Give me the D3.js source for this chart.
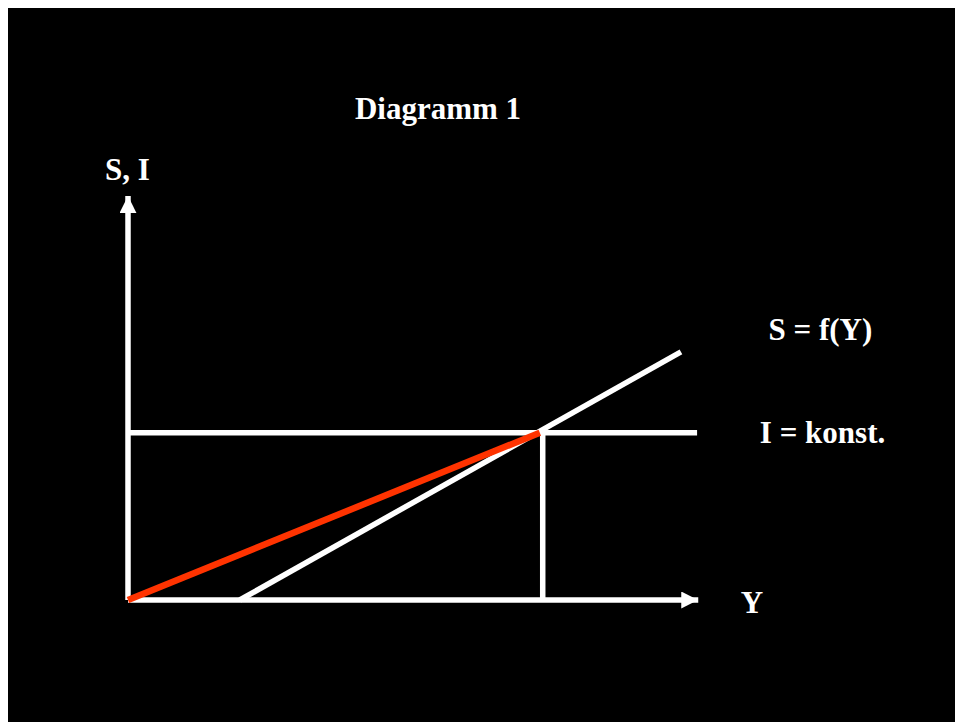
<!DOCTYPE html>
<html>
<head>
<meta charset="utf-8">
<script src="https://cdn.jsdelivr.net/npm/d3@7"></script>
<style>
  body { margin: 0; background: #fff; }
  svg { display: block; }
  text { font-family: "Liberation Serif", "Times New Roman", serif; font-weight: bold; fill: #fff; }
</style>
</head>
<body>
<svg id="chart"></svg>
<script>
const width = 955;
const height = 722;

// data (abstract units: Y from 0..100, S/I from 0..100)
const axisMax = [100, 100];           // arrow tips of Y and S,I axes
const iLevel = 41;                      // I = konst.
const iLineEnd = 98.8;
const sLine = [[19.4, 0], [96, 60.8]];  // S = f(Y)
const yEq = 72;                         // equilibrium income
const redLine = [[0, 0], [71.5, 41]];
const labels = [
  { text: "Diagramm 1", x: 39.4, y: 118 },
  { text: "S, I", x: -4, y: 103 },
  { text: "S = f(Y)", x: 111.2, y: 63.8 },
  { text: "I = konst.", x: 109.7, y: 38.5 },
  { text: "Y", x: 106.4, y: -3.3 }
];

const svg = d3.select("#chart")
  .attr("width", width)
  .attr("height", height);

svg.append("rect")
  .attr("x", 8).attr("y", 8)
  .attr("width", width - 8).attr("height", height - 8)
  .attr("fill", "#000");

const x = d3.scaleLinear().domain([0, 100]).range([128, 704]);
const y = d3.scaleLinear().domain([0, 100]).range([600, 192]);

const line = d3.line().x(d => x(d[0])).y(d => y(d[1]));

svg.append("defs").append("marker")
  .attr("id", "arrow")
  .attr("viewBox", "0 0 17 17")
  .attr("refX", 17).attr("refY", 8.5)
  .attr("markerWidth", 17).attr("markerHeight", 17)
  .attr("markerUnits", "userSpaceOnUse")
  .attr("orient", "auto")
  .append("path")
  .attr("d", "M0,0 L17,8.5 L0,17 Z")
  .attr("fill", "#fff");

// axes
svg.append("path")
  .attr("d", line([[0, 0], [axisMax[0] - 1, 0]]))
  .attr("stroke", "#fff").attr("stroke-width", 5.5).attr("fill", "none")
  .attr("marker-end", "url(#arrow)");
svg.append("path")
  .attr("d", line([[0, 0], [0, axisMax[1] - 1]]))
  .attr("stroke", "#fff").attr("stroke-width", 5.5).attr("fill", "none")
  .attr("marker-end", "url(#arrow)");

// I = konst.
svg.append("path")
  .attr("d", line([[0, iLevel], [iLineEnd, iLevel]]))
  .attr("stroke", "#fff").attr("stroke-width", 5.5).attr("fill", "none");

// vertical at equilibrium
svg.append("path")
  .attr("d", line([[yEq, 0], [yEq, iLevel]]))
  .attr("stroke", "#fff").attr("stroke-width", 5.5).attr("fill", "none");

// S = f(Y)
svg.append("path")
  .attr("d", line(sLine))
  .attr("stroke", "#fff").attr("stroke-width", 5.5).attr("fill", "none");

// red line
svg.append("path")
  .attr("d", line(redLine))
  .attr("stroke", "#ff3300").attr("stroke-width", 6.5).attr("fill", "none");

svg.selectAll("text.lbl")
  .data(labels)
  .enter()
  .append("text")
  .attr("class", "lbl")
  .attr("x", d => x(d.x))
  .attr("y", d => y(d.y))
  .attr("font-size", 31)
  .text(d => d.text);
</script>
</body>
</html>
